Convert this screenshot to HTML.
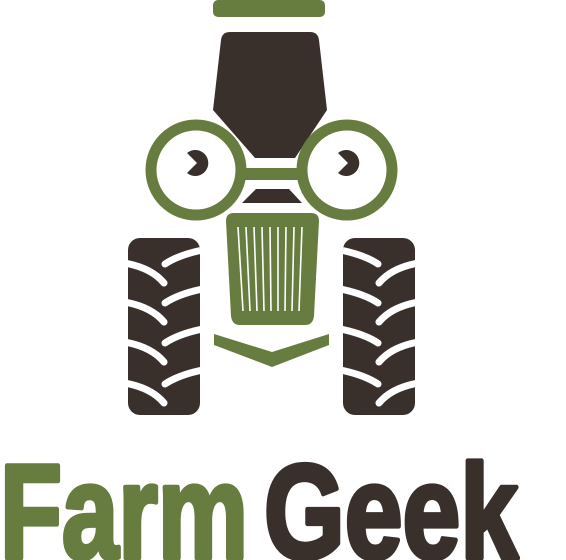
<!DOCTYPE html>
<html><head><meta charset="utf-8"><style>
html,body{margin:0;padding:0;background:#fff;}
svg{display:block;}
</style></head><body>
<svg width="566" height="560" viewBox="0 0 566 560">
<defs>
<clipPath id="tl"><rect x="128" y="238" width="72" height="177" rx="12"/></clipPath>
<clipPath id="tr"><rect x="343" y="238" width="72" height="177" rx="12"/></clipPath>
</defs>
<rect x="213" y="0" width="112" height="17" rx="5" fill="#667d3f"/>
<path d="M230 32 L310 32 Q318 32 319 40 L327 110 L295 158 L255 158 L213 110 L221 40 Q222 32 230 32Z" fill="#3a302b"/>
<g>
<circle cx="196" cy="170" r="45" fill="#fff" stroke="#667d3f" stroke-width="11"/>
<circle cx="347" cy="170" r="45" fill="#fff" stroke="#667d3f" stroke-width="11"/>
<rect x="240" y="168" width="63" height="12" fill="#667d3f"/>
</g>
<path d="M188 157 A13 13 0 1 1 188 177 L198 167 Z" fill="#3a302b" transform="translate(-1,-4)"/>
<path d="M339 157 A13 13 0 1 1 339 177 L349 167 Z" fill="#3a302b" transform="translate(-1,-4)"/>
<path d="M256 189 L289 189 L302 203 L242 203 Z" fill="#3a302b"/>
<path d="M234 213 L311 213 Q319 213 319 221 L314 316 Q313 325 305 325 L240 325 Q232 325 231 316 L226 221 Q226 213 234 213Z" fill="#667d3f"/>
<g stroke="#fff" stroke-width="1.6">
<line x1="238" y1="227" x2="243" y2="311"/><line x1="246" y1="227" x2="250" y2="311"/>
<line x1="254" y1="227" x2="257" y2="311"/><line x1="262" y1="227" x2="264" y2="311"/>
<line x1="270" y1="227" x2="271" y2="311"/><line x1="278" y1="227" x2="278" y2="311"/>
<line x1="286" y1="227" x2="285" y2="311"/><line x1="294" y1="227" x2="292" y2="311"/>
<line x1="302" y1="227" x2="299" y2="311"/>
</g>
<path d="M214 334 L272 352 L329 334 L329 345 L272 367 L214 345Z" fill="#667d3f"/>
<g clip-path="url(#tl)">
<rect x="128" y="238" width="72" height="177" fill="#3a302b"/>
<g stroke="#fff" stroke-width="7" stroke-linecap="round" fill="none">
<path d="M118 262 Q150 266 164 283 M165 264 Q180 254 208 249"/>
<path d="M118 301 Q150 305 164 322 M165 303 Q180 293 208 288"/>
<path d="M118 341 Q150 345 164 362 M165 343 Q180 333 208 328"/>
<path d="M118 382 Q150 386 164 403 M165 384 Q180 374 208 369"/>
</g></g>
<g clip-path="url(#tr)">
<rect x="343" y="238" width="72" height="177" fill="#3a302b"/>
<g stroke="#fff" stroke-width="7" stroke-linecap="round" fill="none">
<path d="M425 262 Q393 266 379 283 M378 264 Q363 254 335 249"/>
<path d="M425 301 Q393 305 379 322 M378 303 Q363 293 335 288"/>
<path d="M425 341 Q393 345 379 362 M378 343 Q363 333 335 328"/>
<path d="M425 382 Q393 386 379 403 M378 384 Q363 374 335 369"/>
</g></g>
<text x="0" y="558" font-family="'Liberation Sans', sans-serif" font-weight="bold" font-size="134" fill="#667d3f" stroke="#667d3f" stroke-width="5" stroke-linejoin="round" textLength="248" lengthAdjust="spacingAndGlyphs">Farm</text>
<text x="264" y="558" font-family="'Liberation Sans', sans-serif" font-weight="bold" font-size="134" fill="#3a302b" stroke="#3a302b" stroke-width="5" stroke-linejoin="round" textLength="254" lengthAdjust="spacingAndGlyphs">Geek</text>
</svg>
</body></html>
